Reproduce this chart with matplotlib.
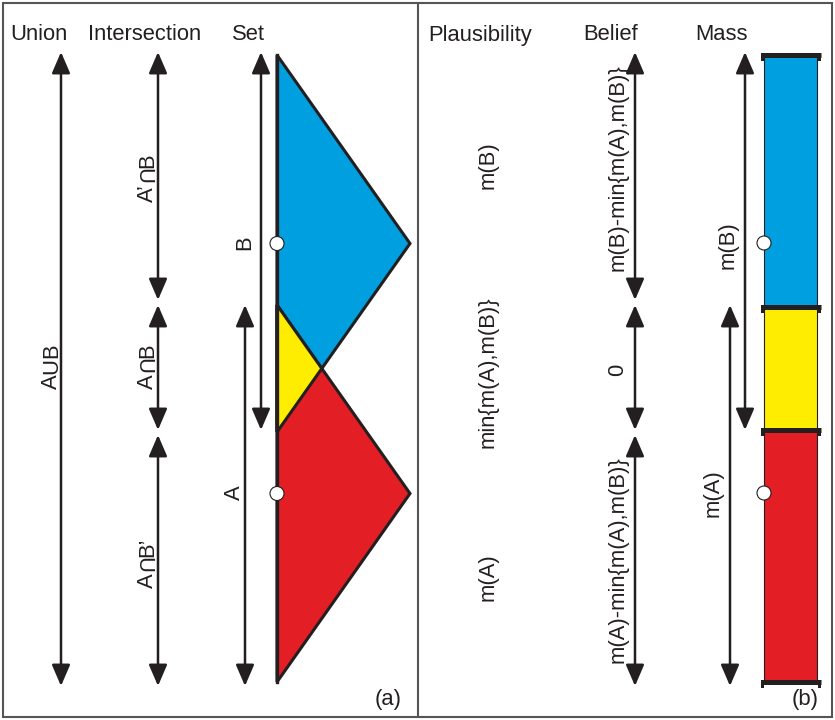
import matplotlib
matplotlib.use("Agg")
import matplotlib.pyplot as plt
from matplotlib.patches import Polygon, Rectangle, Circle

plt.rcParams['font.family'] = ['Liberation Sans Narrow', 'Liberation Sans', 'DejaVu Sans']

# ---- data (pixel-space layout values of the diagram) ----
titles = ["Union", "Intersection", "Set", "Plausibility", "Belief", "Mass"]
title_x = [10, 88, 232, 428, 583, 695]

# set extents (top, bottom) along the vertical axis
set_B = [55, 432]
set_A = [305, 682]
set_tip_x = 410
set_base_x = 277

# arrow spans
union_span = [52, 686]
union_label = ["A", "∪", "B"]
union_label_y = 366
inter_spans = [[52, 300], [305, 430], [435, 686]]
inter_labels = [["A’", "∩", "B"], ["A", "∩", "B"], ["A", "∩", "B’"]]
inter_label_y = [178, 366, 563]
setB_span = [52, 430]
setA_span = [305, 686]

plaus_labels = ["m(B)", "min{m(A),m(B)}", "m(A)"]
plaus_y = [165, 372, 577]
belief_spans = [[52, 300], [305, 430], [435, 686]]
belief_labels = ["m(B)-min{m(A),m(B)}", "0", "m(A)-min{m(A),m(B)}"]
belief_label_y = [168, 370, 560]
massB_span = [52, 430]
massA_span = [305, 686]
mass_levels = [55, 307, 430, 682]
mass_colors = ["#009FE0", "#FFED00", "#E31E24"]

INK = "#231F20"
FS = 15.8
CAP = 0.729 * FS * 100 / 72  # cap height in pixels

fig = plt.figure(figsize=(8.35, 7.2), dpi=100)
ax = fig.add_axes([0, 0, 1, 1])
ax.set_xlim(0, 835)
ax.set_ylim(720, 0)
ax.axis("off")
renderer = fig.canvas.get_renderer()

def darrow(x, y0, y1):
    ax.annotate("", xy=(x, y1), xytext=(x, y0),
                arrowprops=dict(arrowstyle="<|-|>,head_length=0.65,head_width=0.28",
                                mutation_scale=20, color=INK, lw=1.8,
                                shrinkA=0, shrinkB=0))

def vtext(x, y, s):
    ax.text(x, y, s, rotation=90, ha="center", va="center", fontsize=FS, color=INK)

def vpieces(xb, yc, pieces):
    """Rotated label (read bottom to top) with baseline at x = xb; set symbols
    are drawn as cap-height U glyphs like in the reference."""
    objs = []
    for p in pieces:
        if p == "∩":
            t = ax.text(xb - CAP, yc, "U", rotation=270, rotation_mode="anchor",
                        ha="center", va="baseline", fontsize=FS, color=INK)
        else:
            s = "U" if p == "∪" else p
            t = ax.text(xb, yc, s, rotation=90, rotation_mode="anchor",
                        ha="center", va="baseline", fontsize=FS, color=INK)
        objs.append(t)
    lens = [o.get_window_extent(renderer).height for o in objs]
    total = sum(lens)
    ybot = yc + total / 2  # data y grows downward
    for o, L in zip(objs, lens):
        o.set_y(ybot - L / 2)
        ybot -= L

# frame
ax.add_patch(Rectangle((3, 3), 829, 714, fill=False, ec="#555555", lw=1.5))
ax.plot([418, 418], [3, 717], color="#555555", lw=1.5)

for t, x in zip(titles, title_x):
    ax.text(x, 35, t, ha="left", va="center", fontsize=FS, color=INK)

# Union
darrow(61, *union_span)
vpieces(57, union_label_y, union_label)

# Intersection
for (y0, y1), lab, ly in zip(inter_spans, inter_labels, inter_label_y):
    darrow(158, y0, y1)
    vpieces(153, ly, lab)

# Set shapes
bmid = (set_B[0] + set_B[1]) / 2
amid = (set_A[0] + set_A[1]) / 2
ax.add_patch(Polygon([(set_base_x, set_B[0]), (set_tip_x, bmid), (set_base_x, set_B[1])],
                     closed=True, fc=mass_colors[0], ec=INK, lw=2.2, joinstyle="miter"))
ax.add_patch(Polygon([(set_base_x, set_A[0]), (set_tip_x, amid), (set_base_x, set_A[1])],
                     closed=True, fc=mass_colors[2], ec=INK, lw=2.2, joinstyle="miter"))
slopeB = (set_B[1] - bmid) / (set_tip_x - set_base_x)
slopeA = (amid - set_A[0]) / (set_tip_x - set_base_x)
dx = (set_B[1] - set_A[0]) / (slopeA + slopeB)
ax.add_patch(Polygon([(set_base_x, set_A[0]), (set_base_x + dx, set_A[0] + slopeA * dx),
                      (set_base_x, set_B[1])],
                     closed=True, fc=mass_colors[1], ec=INK, lw=2.2, joinstyle="miter"))
ax.plot([set_base_x, set_base_x], [set_B[0], set_A[1]], color=INK, lw=2.4)
for yc in (bmid, amid):
    ax.add_patch(Circle((set_base_x, yc), 7, fc="white", ec=INK, lw=0.8, zorder=5))

darrow(261, *setB_span)
darrow(245, *setA_span)
vtext(245, 243, "B")
vtext(234, 493, "A")
ax.text(388, 700, "(a)", ha="center", va="center", fontsize=FS, color=INK)

# Plausibility
for y, lab in zip(plaus_y, plaus_labels):
    vtext(488, y, lab)

# Belief
for (y0, y1), lab, ly in zip(belief_spans, belief_labels, belief_label_y):
    darrow(635, y0, y1)
    vtext(618, ly, lab)

# Mass
darrow(745, *massB_span)
darrow(730, *massA_span)
vtext(728, 245, "m(B)")
vtext(713, 493, "m(A)")
for i, c in enumerate(mass_colors):
    y0, y1 = mass_levels[i], mass_levels[i + 1]
    ax.add_patch(Rectangle((764, y0), 53, y1 - y0, fc=c, ec=INK, lw=0.8))
for y in mass_levels:
    ax.plot([761, 821], [y, y], color=INK, lw=3.6, solid_capstyle="butt")
    for xe in (761, 818):
        ax.add_patch(Rectangle((xe, y - 2.5), 3, 8, fc=INK, ec="none"))
for yc in (243, 493):
    ax.add_patch(Circle((764, yc), 7, fc="white", ec=INK, lw=0.8, zorder=5))
ax.text(805, 700, "(b)", ha="center", va="center", fontsize=FS, color=INK)

fig.savefig("out.png", dpi=100)
